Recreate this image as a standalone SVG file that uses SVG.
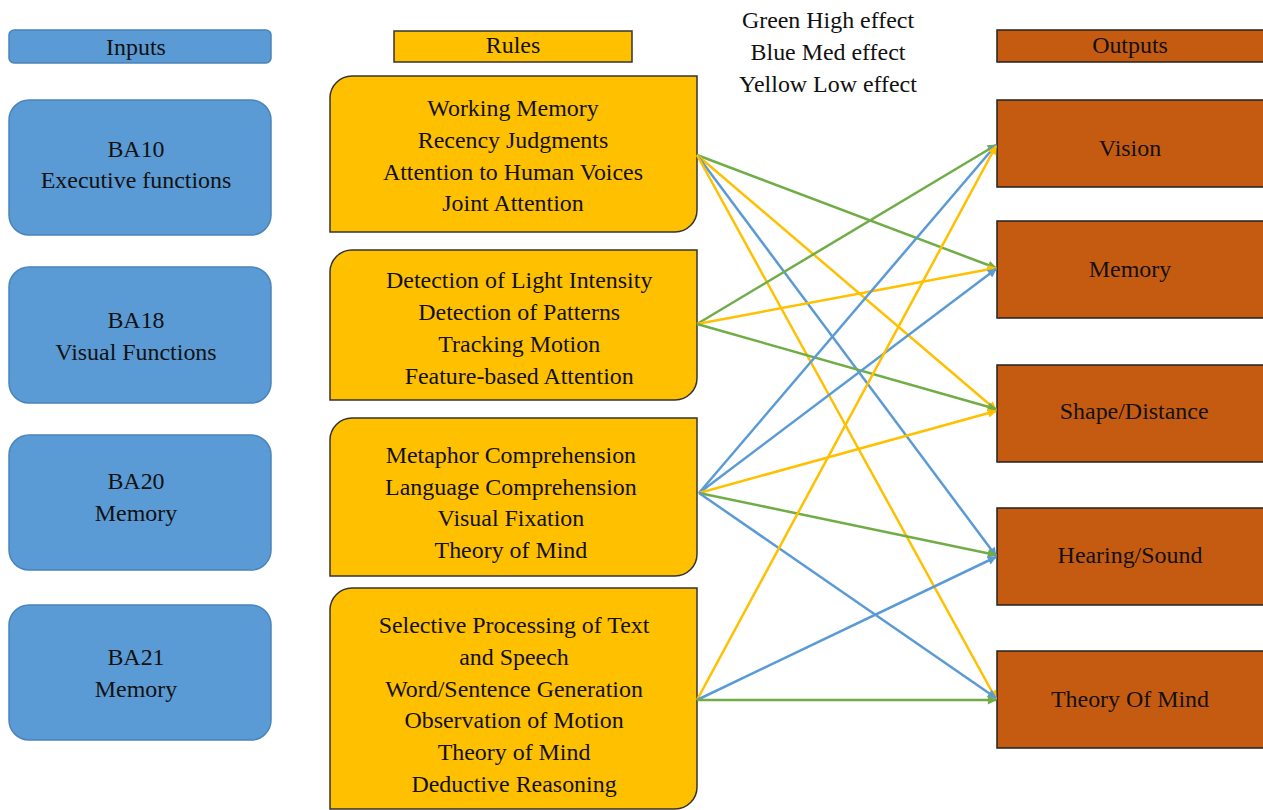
<svg xmlns="http://www.w3.org/2000/svg" width="1263" height="810" viewBox="0 0 1263 810">
<defs>
<style>
.inp{fill:#5B9BD5;stroke:#4A84BA;stroke-width:1.5}
.rule{fill:#FFC000;stroke:#333;stroke-width:1.5}
.out{fill:#C55A11;stroke:#222;stroke-width:1.5}
.g{stroke:#70AD47;stroke-width:2.5;fill:none}
.b{stroke:#5B9BD5;stroke-width:2.5;fill:none}
.y{stroke:#FFC000;stroke-width:2.5;fill:none}
.t{fill:#111;text-anchor:middle}
</style>
<marker id="ag" viewBox="0 0 10 10" refX="9" refY="5" markerWidth="11" markerHeight="9" markerUnits="userSpaceOnUse" orient="auto"><path d="M0,0 L10,5 L0,10 Z" fill="#70AD47"/></marker>
<marker id="ab" viewBox="0 0 10 10" refX="9" refY="5" markerWidth="11" markerHeight="9" markerUnits="userSpaceOnUse" orient="auto"><path d="M0,0 L10,5 L0,10 Z" fill="#5B9BD5"/></marker>
<marker id="ay" viewBox="0 0 10 10" refX="9" refY="5" markerWidth="11" markerHeight="9" markerUnits="userSpaceOnUse" orient="auto"><path d="M0,0 L10,5 L0,10 Z" fill="#FFC000"/></marker>
</defs>
<rect width="1263" height="810" fill="#fff"/>

<g id="legend"><g transform="matrix(1.04,0,0,1,-33.12,0)">
<text class="t" style="font-family:'Liberation Serif',serif;font-size:23px" x="828" y="28">Green High effect</text>
<text class="t" style="font-family:'Liberation Serif',serif;font-size:23px" x="828" y="60">Blue Med effect</text>
<text class="t" style="font-family:'Liberation Serif',serif;font-size:23px" x="828" y="92">Yellow Low effect</text>
</g></g>

<g id="inputs-header"><rect class="inp" x="9" y="30" width="262" height="33" rx="5"/><g transform="matrix(1.04,0,0,1,-5.44,0)"><text class="t" style="font-family:'Liberation Serif',serif;font-size:23px" x="136" y="55">Inputs</text></g></g>
<g id="ba10"><rect class="inp" x="9" y="100" width="262" height="135" rx="20"/><g transform="matrix(1.04,0,0,1,-5.44,0)"><text class="t" style="font-family:'Liberation Serif',serif;font-size:23px" x="136" y="157">BA10</text><text class="t" style="font-family:'Liberation Serif',serif;font-size:23px" x="136" y="188">Executive functions</text></g></g>
<g id="ba18"><rect class="inp" x="9" y="267" width="262" height="136" rx="20"/><g transform="matrix(1.04,0,0,1,-5.44,0)"><text class="t" style="font-family:'Liberation Serif',serif;font-size:23px" x="136" y="328">BA18</text><text class="t" style="font-family:'Liberation Serif',serif;font-size:23px" x="136" y="360">Visual Functions</text></g></g>
<g id="ba20"><rect class="inp" x="9" y="435" width="262" height="135" rx="20"/><g transform="matrix(1.04,0,0,1,-5.44,0)"><text class="t" style="font-family:'Liberation Serif',serif;font-size:23px" x="136" y="489">BA20</text><text class="t" style="font-family:'Liberation Serif',serif;font-size:23px" x="136" y="521">Memory</text></g></g>
<g id="ba21"><rect class="inp" x="9" y="605" width="262" height="135" rx="20"/><g transform="matrix(1.04,0,0,1,-5.44,0)"><text class="t" style="font-family:'Liberation Serif',serif;font-size:23px" x="136" y="665">BA21</text><text class="t" style="font-family:'Liberation Serif',serif;font-size:23px" x="136" y="697">Memory</text></g></g>

<g id="rules-header"><rect class="rule" x="394" y="31" width="238" height="31"/><g transform="matrix(1.04,0,0,1,-20.52,0)"><text class="t" style="font-family:'Liberation Serif',serif;font-size:23px" x="513" y="53">Rules</text></g></g>
<g id="rule1"><path class="rule" d="M352,76 H697 V210 A22,22 0 0 1 675,232 H330 V98 A22,22 0 0 1 352,76 Z"/>
<g transform="matrix(1.04,0,0,1,-20.52,0)"><text class="t" style="font-family:'Liberation Serif',serif;font-size:23px" x="513" y="116">Working Memory</text><text class="t" style="font-family:'Liberation Serif',serif;font-size:23px" x="513" y="148">Recency Judgments</text><text class="t" style="font-family:'Liberation Serif',serif;font-size:23px" x="513" y="180">Attention to Human Voices</text><text class="t" style="font-family:'Liberation Serif',serif;font-size:23px" x="513" y="211">Joint Attention</text></g></g>
<g id="rule2"><path class="rule" d="M352,250 H697 V378 A22,22 0 0 1 675,400 H330 V272 A22,22 0 0 1 352,250 Z"/>
<g transform="matrix(1.04,0,0,1,-20.52,0)"><text class="t" style="font-family:'Liberation Serif',serif;font-size:23px" x="519" y="288">Detection of Light Intensity</text><text class="t" style="font-family:'Liberation Serif',serif;font-size:23px" x="519" y="320">Detection of Patterns</text><text class="t" style="font-family:'Liberation Serif',serif;font-size:23px" x="519" y="352">Tracking Motion</text><text class="t" style="font-family:'Liberation Serif',serif;font-size:23px" x="519" y="384">Feature-based Attention</text></g></g>
<g id="rule3"><path class="rule" d="M352,418 H697 V554 A22,22 0 0 1 675,576 H330 V440 A22,22 0 0 1 352,418 Z"/>
<g transform="matrix(1.04,0,0,1,-20.52,0)"><text class="t" style="font-family:'Liberation Serif',serif;font-size:23px" x="511" y="463">Metaphor Comprehension</text><text class="t" style="font-family:'Liberation Serif',serif;font-size:23px" x="511" y="495">Language Comprehension</text><text class="t" style="font-family:'Liberation Serif',serif;font-size:23px" x="511" y="526">Visual Fixation</text><text class="t" style="font-family:'Liberation Serif',serif;font-size:23px" x="511" y="558">Theory of Mind</text></g></g>
<g id="rule4"><path class="rule" d="M352,588 H697 V787 A22,22 0 0 1 675,809 H330 V610 A22,22 0 0 1 352,588 Z"/>
<g transform="matrix(1.04,0,0,1,-20.52,0)"><text class="t" style="font-family:'Liberation Serif',serif;font-size:23px" x="514" y="633">Selective Processing of Text</text><text class="t" style="font-family:'Liberation Serif',serif;font-size:23px" x="514" y="665">and Speech</text><text class="t" style="font-family:'Liberation Serif',serif;font-size:23px" x="514" y="697">Word/Sentence Generation</text><text class="t" style="font-family:'Liberation Serif',serif;font-size:23px" x="514" y="728">Observation of Motion</text><text class="t" style="font-family:'Liberation Serif',serif;font-size:23px" x="514" y="760">Theory of Mind</text><text class="t" style="font-family:'Liberation Serif',serif;font-size:23px" x="514" y="792">Deductive Reasoning</text></g></g>

<g id="outputs-header"><rect class="out" x="997" y="30" width="270" height="32"/><g transform="matrix(1.04,0,0,1,-45.2,0)"><text class="t" style="font-family:'Liberation Serif',serif;font-size:23px" x="1130" y="53">Outputs</text></g></g>
<g id="vision"><rect class="out" x="997" y="100" width="270" height="87"/><g transform="matrix(1.04,0,0,1,-45.2,0)"><text class="t" style="font-family:'Liberation Serif',serif;font-size:23px" x="1130" y="156">Vision</text></g></g>
<g id="memory"><rect class="out" x="997" y="221" width="270" height="97"/><g transform="matrix(1.04,0,0,1,-45.2,0)"><text class="t" style="font-family:'Liberation Serif',serif;font-size:23px" x="1130" y="277">Memory</text></g></g>
<g id="shape"><rect class="out" x="997" y="365" width="270" height="97"/><g transform="matrix(1.04,0,0,1,-45.2,0)"><text class="t" style="font-family:'Liberation Serif',serif;font-size:23px" x="1134" y="419">Shape/Distance</text></g></g>
<g id="hearing"><rect class="out" x="997" y="508" width="270" height="97"/><g transform="matrix(1.04,0,0,1,-45.2,0)"><text class="t" style="font-family:'Liberation Serif',serif;font-size:23px" x="1130" y="563">Hearing/Sound</text></g></g>
<g id="tom"><rect class="out" x="997" y="651" width="270" height="97"/><g transform="matrix(1.04,0,0,1,-45.2,0)"><text class="t" style="font-family:'Liberation Serif',serif;font-size:23px" x="1130" y="707">Theory Of Mind</text></g></g>

<g id="connectors">
<line class="g" x1="697" y1="155" x2="996" y2="268" marker-end="url(#ag)"/>
<line class="y" x1="697" y1="155" x2="996" y2="410" marker-end="url(#ay)"/>
<line class="b" x1="697" y1="155" x2="996" y2="556" marker-end="url(#ab)"/>
<line class="y" x1="697" y1="155" x2="996" y2="699" marker-end="url(#ay)"/>

<line class="g" x1="697" y1="324" x2="996" y2="145" marker-end="url(#ag)"/>
<line class="y" x1="697" y1="324" x2="996" y2="268" marker-end="url(#ay)"/>
<line class="g" x1="697" y1="324" x2="996" y2="409" marker-end="url(#ag)"/>

<line class="b" x1="699" y1="493" x2="996" y2="145" marker-end="url(#ab)"/>
<line class="b" x1="699" y1="493" x2="996" y2="269" marker-end="url(#ab)"/>
<line class="y" x1="699" y1="493" x2="996" y2="411" marker-end="url(#ay)"/>
<line class="g" x1="699" y1="493" x2="996" y2="555" marker-end="url(#ag)"/>
<line class="b" x1="699" y1="493" x2="996" y2="698" marker-end="url(#ab)"/>

<line class="y" x1="697" y1="700" x2="996" y2="146" marker-end="url(#ay)"/>
<line class="b" x1="697" y1="700" x2="996" y2="557" marker-end="url(#ab)"/>
<line class="g" x1="697" y1="700" x2="996" y2="700" marker-end="url(#ag)"/>
</g>
</svg>
